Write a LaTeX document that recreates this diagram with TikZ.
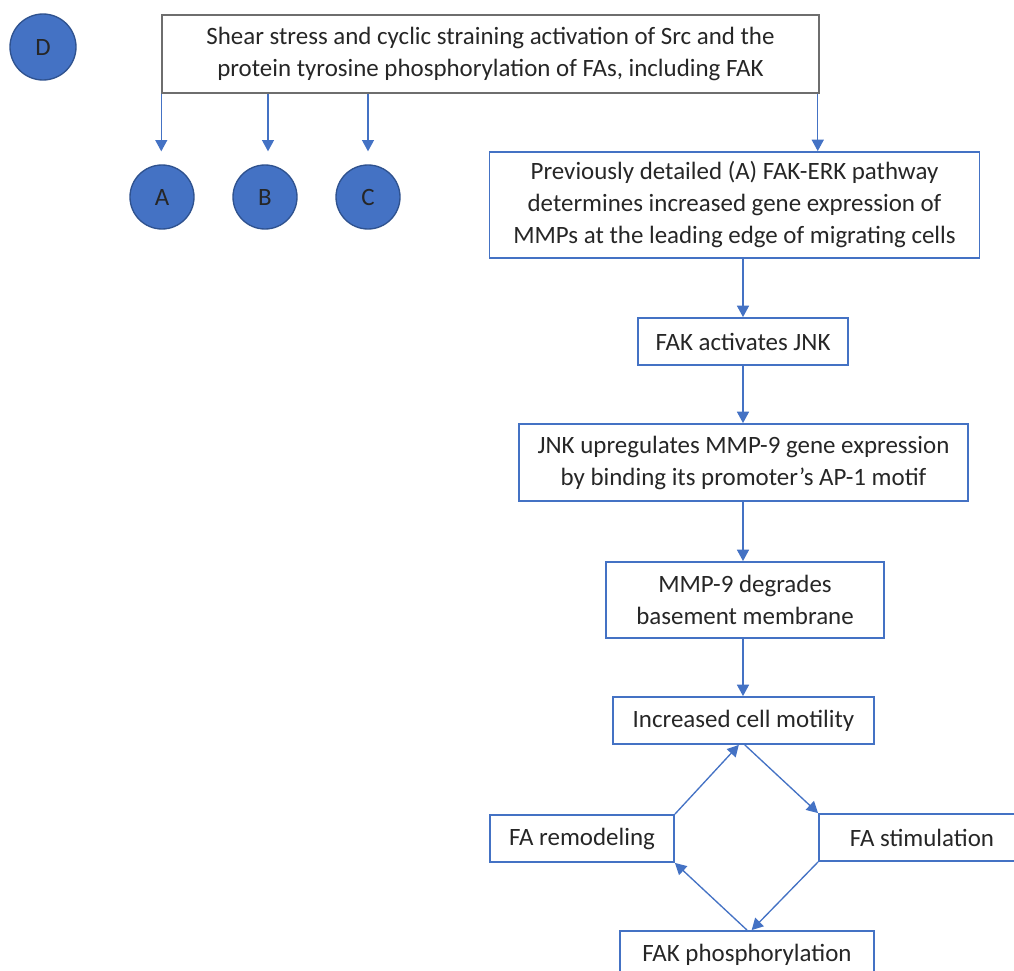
\documentclass[tikz,border=0pt]{standalone}
\usepackage{fontspec}
\setmainfont{Carlito}
\usetikzlibrary{arrows.meta}

\definecolor{boxblue}{RGB}{68,114,196}
\definecolor{ringblue}{RGB}{47,82,143}
\definecolor{framegray}{RGB}{110,110,110}
\definecolor{inkgray}{RGB}{38,38,38}

\tikzset{
  every picture/.style={line width=0.75pt},
  txt/.style={font=\fontsize{18.7}{24}\selectfont, text=inkgray, align=center, inner sep=0pt},
  bluebox/.style={txt, draw=boxblue, line width=1.4pt},
  graybox/.style={txt, draw=framegray, line width=1.1pt},
  dot/.style={txt, circle, fill=boxblue, draw=ringblue, line width=1pt, minimum size=48pt},
  arr/.style={draw=boxblue, line width=1pt, -{Triangle[width=9pt,length=8.5pt]}}
}

\begin{document}
\begin{tikzpicture}[x=0.75pt, y=0.75pt, yscale=-1, xscale=1]

    \useasboundingbox (0,0) rectangle (1014,971);

    % Circles
    \node [dot, minimum size=49.5pt] (D) at ( 43,47) {D};
    \node [dot] (A) at (162,197) {A};
    \node [dot] (B) at (265,197) {B};
    \node [dot] (C) at (368,197) {C};

    % Top box
    \node [graybox, minimum width=492.75pt, minimum height=58.5pt] (shear) at (490.5,54)
          {Shear stress and cyclic straining activation of Src and the\\
           protein tyrosine phosphorylation of FAs, including FAK};

    % Main chain
    \node [bluebox, minimum width=367.5pt, minimum height=79.5pt] (erk) at (734.5,205)
          {Previously detailed (A) FAK-ERK pathway\\
           determines increased gene expression of\\
           MMPs at the leading edge of migrating cells};
    \node [bluebox, minimum width=157.5pt, minimum height=35.25pt] (jnk) at (743,341.5)
          {FAK activates JNK};
    \node [bluebox, minimum width=336.75pt, minimum height=57.75pt] (mmp) at (743.5,462.5)
          {JNK upregulates MMP-9 gene expression\\
           by binding its promoter’s AP-1 motif};
    \node [bluebox, minimum width=208.5pt, minimum height=57pt] (degr) at (745,600)
          {MMP-9 degrades\\ basement membrane};
    \node [bluebox, minimum width=195.75pt, minimum height=35.25pt] (motil) at (743.5,720.5)
          {Increased cell motility};

    % Loop
    \node [bluebox, minimum width=138pt, minimum height=35.25pt] (remod) at (582,838.5)
          {FA remodeling};
    \node [bluebox, minimum width=154.5pt, minimum height=35.25pt] (stim) at (922,837.5)
          {FA stimulation};
    \node [bluebox, minimum width=190.5pt, minimum height=36pt] (phos) at (747,955)
          {FAK phosphorylation};

    % Lines top box - circles
    \draw [arr, shorten >=9.75pt] (shear.south west) -- (shear.south west |- A.north);
    \draw [arr, shorten >=9.75pt] (shear.south -| 268,0) -- (268,0 |- B.north);
    \draw [arr, shorten >=9.75pt] (shear.south -| C.north) -- (C.north);

    % Line top box - ERK
    \draw [arr] ([xshift=-1.5pt]shear.south east) -- ([xshift=-1.5pt]shear.south east |- erk.north);

    % Lines down the chain
    \draw [arr] (jnk.north |- erk.south) -- (jnk.north);
    \draw [arr] (jnk.south) -- (jnk.south |- mmp.north);
    \draw [arr] (jnk.south |- mmp.south) -- (jnk.south |- degr.north);
    \draw [arr] (jnk.south |- degr.south) -- (jnk.south |- motil.north);

    % Loop lines
    \draw [arr] (remod.north east) -- ([xshift=-3.5pt]motil.south);
    \draw [arr] ([xshift=1pt]motil.south) -- (stim.north west);
    \draw [arr] (stim.south west) -- ([xshift=3.5pt]phos.north);
    \draw [arr] (phos.north) -- (remod.south east);

\end{tikzpicture}
\end{document}
